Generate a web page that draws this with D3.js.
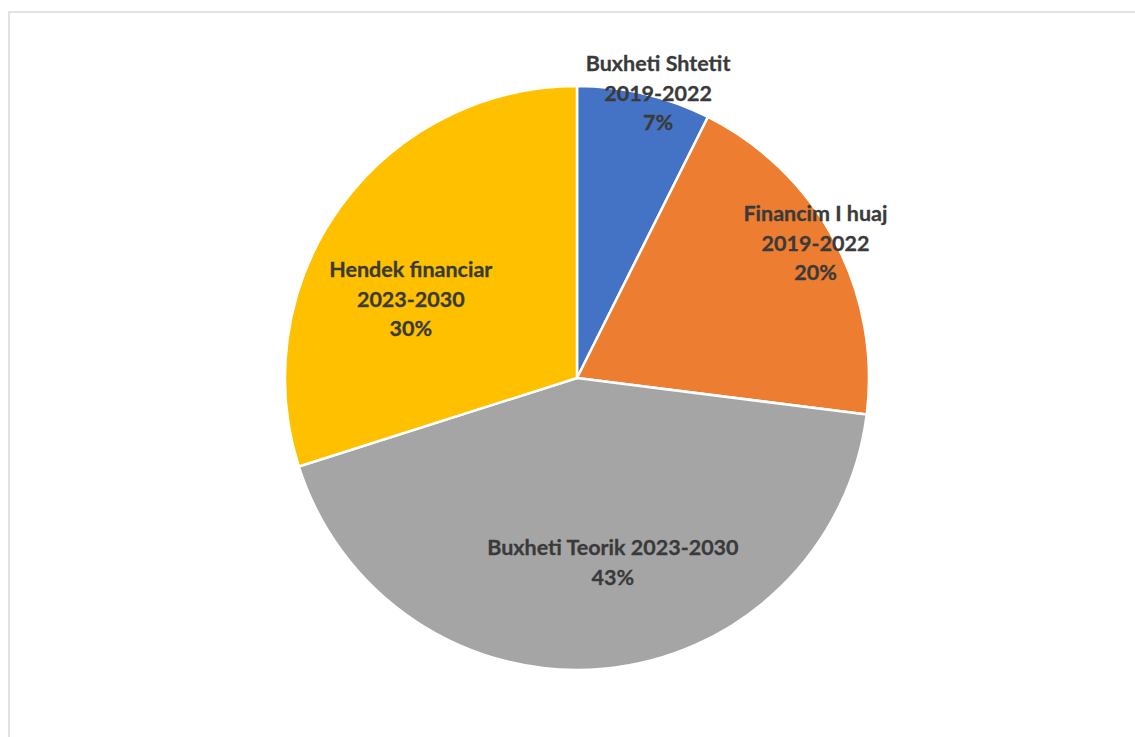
<!DOCTYPE html>
<html>
<head>
<meta charset="utf-8">
<script src="https://cdn.jsdelivr.net/npm/d3@7/dist/d3.min.js"></script>
<style>
  html, body { margin: 0; padding: 0; background: #fff; }
  svg { display: block; }
</style>
</head>
<body>
<svg id="chart" width="1135" height="737"></svg>
<script>
// Data
const categories = ["Buxheti Shtetit 2019-2022", "Financim I huaj 2019-2022", "Buxheti Teorik 2023-2030", "Hendek financiar 2023-2030"];
const labelLines = [
  ["Buxheti Shtetit", "2019-2022"],
  ["Financim I huaj", "2019-2022"],
  ["Buxheti Teorik 2023-2030"],
  ["Hendek financiar", "2023-2030"]
];
const values = [7.4, 19.6, 43.1, 29.9];
const colors = ["#4472C4", "#ED7D31", "#A5A5A5", "#FFC000"];

// Layout
const W = 1135, H = 737;
const cx = 577, cy = 378, R = 292;
// label anchor in polar coordinates (deg from top, radius) - layout only
const labelPolar = [[15.9, 296], [60.5, 274], [169, 188], [295.4, 184]];
const lineH = 29.5;

const svg = d3.select("#chart");
svg.append("rect").attr("x", 9).attr("y", 12).attr("width", W + 20).attr("height", H + 20)
  .attr("fill", "#fff").attr("stroke", "#d9d9d9").attr("stroke-width", 1.5);

const pie = d3.pie().sort(null).value(d => d)(values);
const arc = d3.arc().innerRadius(0).outerRadius(R);
const g = svg.append("g").attr("transform", `translate(${cx},${cy})`);

g.selectAll("path").data(pie).join("path")
  .attr("d", arc)
  .attr("fill", (d, i) => colors[i])
  .attr("stroke", "#fff").attr("stroke-width", 2.5).attr("stroke-linejoin", "round");

const fmt = d3.format(".0%");
const total = d3.sum(values);
pie.forEach((d, i) => {
  const [deg, r] = labelPolar[i];
  const a = deg * Math.PI / 180;
  const x = r * Math.sin(a), y = -r * Math.cos(a);
  const lines = labelLines[i].concat([fmt(Math.round(values[i]) / 100)]);
  const n = lines.length;
  const t = g.append("text")
    .attr("text-anchor", "middle")
    .attr("font-family", "Lato, 'Open Sans', sans-serif")
    .attr("font-weight", "bold")
    .attr("font-size", 21.5)
    .attr("fill", "#3a3a3a")
    .attr("stroke", "#3a3a3a").attr("stroke-width", 0.3);
  lines.forEach((ln, k) => {
    t.append("tspan").attr("x", x).attr("y", y + (k - (n - 1) / 2) * lineH).attr("dy", "0.35em").text(ln);
  });
});
</script>
</body>
</html>
